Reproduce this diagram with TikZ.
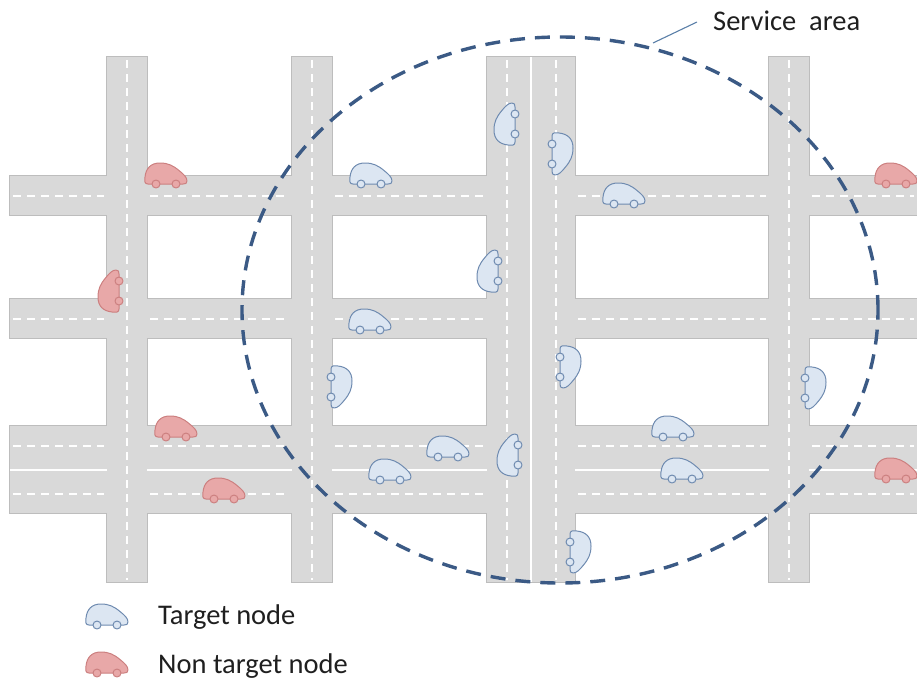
\documentclass[tikz,border=0pt]{standalone}
\usepackage{fontspec}
\setmainfont{Carlito}
\definecolor{roadgray}{HTML}{D9D9D9}
\definecolor{roadrim}{HTML}{BDBDBD}
\definecolor{tgtfill}{HTML}{DCE6F2}
\definecolor{tgtline}{HTML}{6F8BB0}
\definecolor{nonfill}{HTML}{E8A8A8}
\definecolor{nonline}{HTML}{CC8080}
\definecolor{areablue}{HTML}{3B5A85}
\definecolor{calloutblue}{HTML}{5A7FA8}
\tikzset{
  roadrimmed/.style={fill=roadgray, draw=roadrim, line width=1.2pt},
  roadfill/.style={fill=roadgray},
  lanedash/.style={draw=white, line width=2pt, dash pattern=on 8pt off 6pt},
  lanesolid/.style={draw=white, line width=2.6pt},
  servicearea/.style={draw=areablue, line width=3.4pt, dash pattern=on 15pt off 10pt},
  callout/.style={draw=calloutblue, line width=1.1pt},
  lbl/.style={font=\fontsize{28.5}{34}\selectfont, text=black!88, inner sep=0pt},
  carbody/.style={fill=#1fill, draw=#1line, line width=1pt, line join=round},
  car/.pic={
    \path[carbody=\carkind] (-18,8) .. controls (-21.5,8) and (-21.5,5) .. (-21,1)
      .. controls (-20,-8) and (-15,-13) .. (-6,-13)
      .. controls (2,-13) and (7,-10.5) .. (13,-5.5)
      .. controls (18,-1.5) and (21,1.5) .. (21,5)
      .. controls (21,7.5) and (19.5,8) .. (17,8) -- cycle;
    \path[carbody=\carkind] (-10,8) circle[radius=4pt] (10,8) circle[radius=4pt];
  },
  target/.style={/utils/exec={\def\carkind{tgt}}},
  nontarget/.style={/utils/exec={\def\carkind{non}}},
}
\begin{document}
\begin{tikzpicture}[x=1pt, y=-1pt]
\useasboundingbox (0,0) rectangle (917,680);

% street grid: rimmed pass, then a plain fill that hides the inner rims
\foreach \st in {roadrimmed, roadfill}{
  \foreach \a/\b in {176/215, 299/338, 426/513}
    \path[\st] (10,\a) rectangle (917,\b);
  \foreach \a/\b in {107/147, 292/332, 487/575, 769/809}
    \path[\st] (\a,57) rectangle (\b,582);
}

% lane markings of the east-west streets, broken at the crossings
\foreach \xa/\xb in {10/107, 147/292, 332/487, 575/769, 809/917}{
  \foreach \y in {196, 319, 446, 494}
    \draw[lanedash] (\xa+3,\y) -- (\xb-3,\y);
  \draw[lanesolid] (\xa,470) -- (\xb,470);
}
% lane markings of the north-south streets
\foreach \x in {127, 312, 507, 556, 789}
  \draw[lanedash] (\x,60) -- (\x,580);
\draw[lanesolid] (531,57) -- (531,582);

% non target vehicles
\pic[nontarget] at (166,176) {car};
\pic[nontarget, rotate=90] at (111,291) {car};
\pic[nontarget] at (176,429) {car};
\pic[nontarget] at (224,491) {car};
\pic[nontarget] at (896,176) {car};
\pic[nontarget] at (896,471) {car};

% target vehicles
\pic[target] at (371,176) {car};
\pic[target, rotate=90] at (507,124) {car};
\pic[target, rotate=-90] at (560,154) {car};
\pic[target] at (624,196) {car};
\pic[target, rotate=90] at (490,271) {car};
\pic[target] at (370,322) {car};
\pic[target, rotate=-90] at (339,387) {car};
\pic[target, rotate=-90] at (568,367) {car};
\pic[target, rotate=-90] at (813,388) {car};
\pic[target] at (448,449) {car};
\pic[target] at (390,472) {car};
\pic[target, rotate=90] at (510,455) {car};
\pic[target] at (673,429) {car};
\pic[target] at (682,471) {car};
\pic[target, rotate=-90] at (578,552) {car};

% service area boundary and its label
\draw[servicearea] (560,310) ellipse [x radius=318pt, y radius=273pt];
\node[lbl, anchor=base west] (svc) at (713,30) {Service~ area};
\coordinate (svctip) at (697,22);
\coordinate (svcfoot) at (653,43);
\draw[callout] (svcfoot) -- (svctip);

% legend
\pic[target] at (107,617) {car};
\node[lbl, anchor=base west] (tgt) at (158,624) {Target node};
\pic[nontarget] at (107,665) {car};
\node[lbl, anchor=base west] (non) at (158,673) {Non target node};
\end{tikzpicture}
\end{document}
